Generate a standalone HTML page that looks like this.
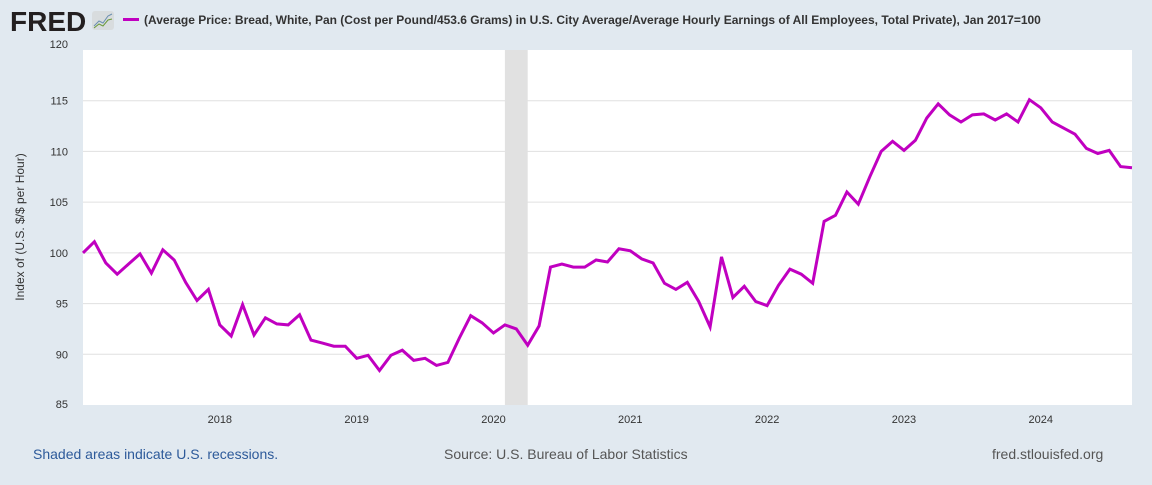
<!DOCTYPE html>
<html><head><meta charset="utf-8"><style>
body{margin:0;width:1152px;height:480px;background:#e1e9f0;font-family:"Liberation Sans",sans-serif;overflow:hidden}
</style></head><body>
<svg width="1152" height="480" xmlns="http://www.w3.org/2000/svg">
<text x="10" y="31" font-size="28" font-weight="bold" fill="#231f20" font-family="Liberation Sans,sans-serif">FRED</text>
<g><rect x="92" y="11" width="22" height="19" rx="3" fill="#d8dcde"/><polyline points="94,26 99,21 103,23 108,16 112,14" fill="none" stroke="#6a8fb0" stroke-width="1"/><polyline points="94,28 99,24 103,26 108,20 112,19" fill="none" stroke="#6b9a3a" stroke-width="1"/></g>
<line x1="123" y1="19.5" x2="139" y2="19.5" stroke="#c000c0" stroke-width="3"/>
<text x="144" y="24" font-size="12" font-weight="bold" fill="#333">(Average Price: Bread, White, Pan (Cost per Pound/453.6 Grams) in U.S. City Average/Average Hourly Earnings of All Employees, Total Private), Jan 2017=100</text>
<rect x="83" y="50" width="1049" height="355" fill="#fff"/>
<g id="grid"></g><g id="rec"></g><g id="yt"></g><g id="xt"></g><g id="ln"></g>
<text transform="translate(24,227) rotate(-90)" text-anchor="middle" font-size="12" fill="#333">Index of (U.S. $/$ per Hour)</text>
<text x="33" y="459" font-size="14" fill="#2d5a9a">Shaded areas indicate U.S. recessions.</text>
<text x="444" y="459" font-size="14" fill="#555">Source: U.S. Bureau of Labor Statistics</text>
<text x="992" y="459" font-size="14" fill="#555">fred.stlouisfed.org</text>
</svg>
<script>
const values=[100,101.1,99.0,97.9,98.9,99.9,98.0,100.3,99.3,97.1,95.3,96.4,
92.9,91.8,94.9,91.9,93.6,93.0,92.9,93.9,91.4,91.1,90.8,90.8,
89.6,89.9,88.4,89.9,90.4,89.4,89.6,88.9,89.2,91.6,93.8,93.1,
92.1,92.9,92.5,90.9,92.8,98.6,98.9,98.6,98.6,99.3,99.1,100.4,
100.2,99.4,99.0,97.0,96.4,97.1,95.2,92.7,99.6,95.6,96.7,95.2,
94.8,96.8,98.4,97.9,97.0,103.1,103.7,106.0,104.8,107.5,110.0,111.0,
110.1,111.1,113.3,114.7,113.6,112.9,113.6,113.7,113.1,113.7,112.9,115.1,
114.3,112.9,112.3,111.7,110.3,109.8,110.1,108.5,108.4];
const yTicks=[85,90,95,100,105,110,115,120];
const xYears=[2018,2019,2020,2021,2022,2023,2024];
const recession=[37,39]; // month indices Feb-Apr 2020
const NS='http://www.w3.org/2000/svg';
const x=m=>83+m*(1049/92);
const y=v=>405-(v-85)*(355/35);
function mk(t,a,p){const e=document.createElementNS(NS,t);for(const k in a)e.setAttribute(k,a[k]);document.getElementById(p).appendChild(e);return e;}
yTicks.forEach(v=>{
 if(v>85&&v<120){const g=mk('line',{x1:83,x2:1132,y1:y(v),y2:y(v),stroke:'#e0e0e0','stroke-width':1},'grid');
 
 }
 const t=mk('text',{x:68,y:y(v)+4-(v==120?6:0)+(v==85?-1:0),'text-anchor':'end','font-size':11,fill:'#333'},'yt');t.textContent=v;
 
 
});
xYears.forEach(yr=>{const m=(yr-2017)*12;const t=mk('text',{x:x(m),y:423,'text-anchor':'middle','font-size':11,fill:'#333'},'xt');t.textContent=yr;
 
 });
const r=mk('rect',{x:x(recession[0]),y:50,width:x(recession[1])-x(recession[0]),height:355,fill:'#e1e1e1'},'rec');


const p=mk('polyline',{points:values.map((v,i)=>x(i).toFixed(1)+','+y(v).toFixed(1)).join(' '),fill:'none',stroke:'#c000c0','stroke-width':3,'stroke-linejoin':'miter'},'ln');


</script>
</body></html>
